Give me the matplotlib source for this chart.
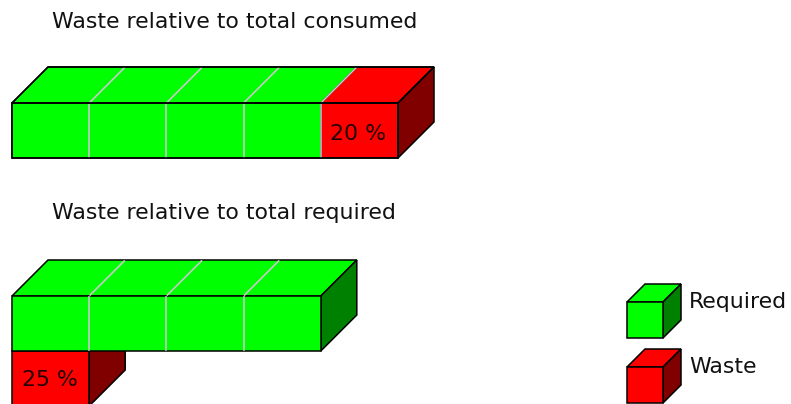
import matplotlib
matplotlib.use("Agg")
import matplotlib.pyplot as plt
from matplotlib.patches import Polygon

# ---- data ----
titles = ["Waste relative to total consumed", "Waste relative to total required"]
required_units = [4, 4]
waste_units = [1, 1]
legend_labels = ["Required", "Waste"]

# ---- style / layout (pixels) ----
W, H = 791, 404
GREEN, GREEN_SIDE = "#00ff00", "#008000"
RED, RED_SIDE = "#ff0000", "#800000"
DIV = "#c8c8c8"
unit_w = 77.2
depth = 36
bar_h = 55
x0 = 12
FS = 15.8

fig = plt.figure(figsize=(W / 100, H / 100), dpi=100)
ax = fig.add_axes([0, 0, 1, 1])
ax.set_xlim(0, W)
ax.set_ylim(H, 0)
ax.axis("off")

LW = 1.1


def face(pts, color, z=1):
    ax.add_patch(Polygon(pts, closed=True, facecolor=color, edgecolor="black",
                         linewidth=LW, joinstyle="miter", zorder=z))


def box(x, y, w, h, d, front, side, z=1, top=True):
    if top:
        face([(x, y), (x + d, y - d), (x + w + d, y - d), (x + w, y)], front, z)
    face([(x + w, y), (x + w + d, y - d), (x + w + d, y - d + h), (x + w, y + h)], side, z)
    face([(x, y), (x + w, y), (x + w, y + h), (x, y + h)], front, z)


def dividers(x, y, n, h, z=2):
    for i in range(1, n):
        xi = x + i * unit_w
        ax.plot([xi, xi], [y + 1, y + h - 1], color=DIV, lw=1.2, zorder=z)
        ax.plot([xi + 1, xi + depth - 1], [y - 1, y - depth + 1], color=DIV, lw=1.2, zorder=z)


# ---- chart 1: waste relative to total consumed ----
ytop1 = 103
ax.text(52, 22, titles[0], fontsize=FS, va="center", ha="left", color="#111111")
nreq, nw = required_units[0], waste_units[0]
total = nreq + nw
wg = nreq * unit_w
wr = nw * unit_w
face([(x0, ytop1), (x0 + depth, ytop1 - depth), (x0 + wg + depth, ytop1 - depth), (x0 + wg, ytop1)], GREEN, 1)
face([(x0, ytop1), (x0 + wg, ytop1), (x0 + wg, ytop1 + bar_h), (x0, ytop1 + bar_h)], GREEN, 1)
box(x0 + wg, ytop1, wr, bar_h, depth, RED, RED_SIDE, 1)
dividers(x0, ytop1, total, bar_h, 3)
ax.add_patch(Polygon([(x0, ytop1), (x0 + wg + wr, ytop1), (x0 + wg + wr, ytop1 + bar_h), (x0, ytop1 + bar_h)],
                     closed=True, fill=False, edgecolor="black", linewidth=LW, zorder=4))
ax.add_patch(Polygon([(x0, ytop1), (x0 + depth, ytop1 - depth), (x0 + wg + wr + depth, ytop1 - depth), (x0 + wg + wr, ytop1)],
                     closed=True, fill=False, edgecolor="black", linewidth=LW, zorder=4))
pct1 = 100 * nw / total
ax.text(x0 + wg + wr / 2 - 1, ytop1 + bar_h / 2 + 3, f"{pct1:.0f} %", fontsize=FS, ha="center",
        va="center", color="#200000", zorder=5)

# ---- chart 2: waste relative to total required ----
ytop2 = 296
ax.text(52, 213, titles[1], fontsize=FS, va="center", ha="left", color="#111111")
nreq, nw = required_units[1], waste_units[1]
wg = nreq * unit_w
wr = nw * unit_w
box(x0, ytop2 + bar_h, wr, bar_h, depth, RED, RED_SIDE, 1, top=False)
box(x0, ytop2, wg, bar_h, depth, GREEN, GREEN_SIDE, 2)
dividers(x0, ytop2, nreq, bar_h, 3)
pct2 = 100 * nw / nreq
ax.text(x0 + wr / 2 - 1, ytop2 + bar_h + bar_h / 2 + 2, f"{pct2:.0f} %", fontsize=FS, ha="center",
        va="center", color="#200000", zorder=5)

# ---- legend ----
lx, cube, cd = 627, 36, 18
for i, (lab, fc, sc) in enumerate(zip(legend_labels, [GREEN, RED], [GREEN_SIDE, RED_SIDE])):
    ly = 302 + i * 65
    box(lx, ly, cube, cube, cd, fc, sc, 5)
    ax.text(lx + cube + cd + 8, ly, lab, fontsize=FS, ha="left", va="center", color="#111111", zorder=6)

fig.savefig("out.png", dpi=100)
